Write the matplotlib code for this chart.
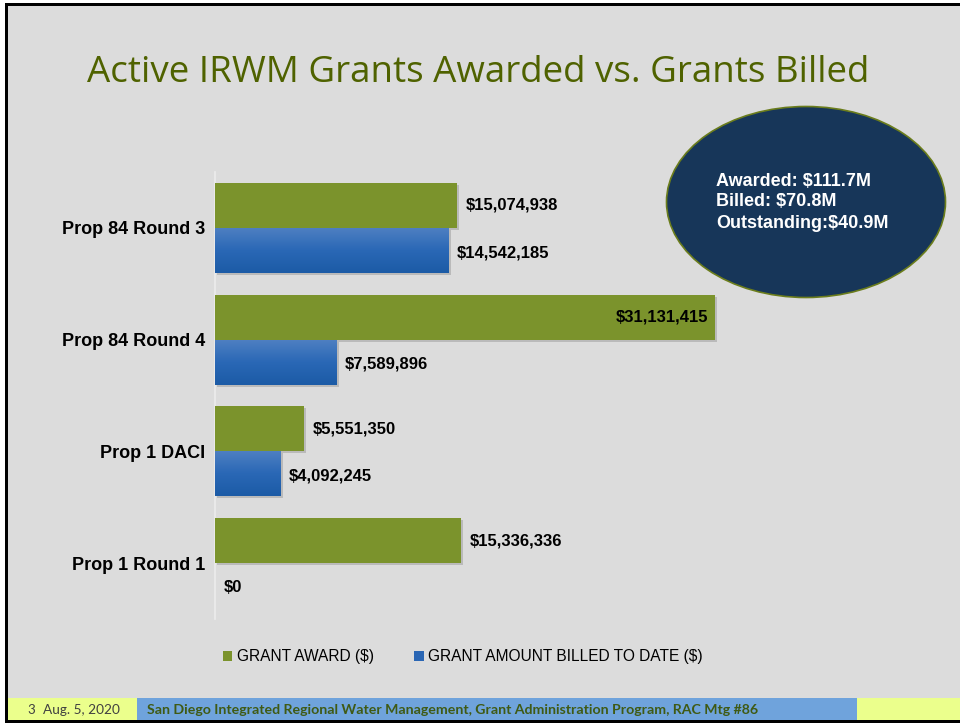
import numpy as np
import matplotlib
matplotlib.use("Agg")
import matplotlib.pyplot as plt
from matplotlib.patches import Rectangle, Ellipse, Patch
from matplotlib import patheffects as pe
from matplotlib.colors import LinearSegmentedColormap

# data
categories = ["Prop 84 Round 3", "Prop 84 Round 4", "Prop 1 DACI", "Prop 1 Round 1"]
grant_award = [15074938, 31131415, 5551350, 15336336]
grant_billed = [14542185, 7589896, 4092245, 0]
series_names = ["GRANT AWARD ($)", "GRANT AMOUNT BILLED TO DATE ($)"]
summary_lines = ["Awarded: $111.7M", "Billed: $70.8M", "Outstanding:$40.9M"]
title = "Active IRWM Grants Awarded vs. Grants Billed"
footer_page = "3"
footer_date = "Aug. 5, 2020"
footer_text = ("San Diego Integrated Regional Water Management, "
               "Grant Administration Program, RAC Mtg #86")

GREEN = "#7b932c"
BLUE = "#2a66b4"
BG = "#dcdcdc"
W, H = 960, 723

fig = plt.figure(figsize=(9.6, 7.23), dpi=100, facecolor="white")


def fx(px):
    return px / W


def fy(py):
    return 1 - py / H


# slide background + border
fig.patches.append(Rectangle((fx(5), 0), 1 - fx(5), fy(3), transform=fig.transFigure,
                             facecolor=BG, edgecolor="none", zorder=-10))
fig.patches.append(Rectangle((fx(5), fy(723)), fx(3), fy(3) - fy(723),
                             transform=fig.transFigure, facecolor="black", zorder=-9))
fig.patches.append(Rectangle((fx(5), fy(6)), 1, fy(3) - fy(6),
                             transform=fig.transFigure, facecolor="black", zorder=-9))
fig.patches.append(Rectangle((fx(5), 0), 1, fy(720),
                             transform=fig.transFigure, facecolor="black", zorder=-9))

# footer strips
fig.patches.append(Rectangle((fx(8), fy(720)), fx(137) - fx(8), fy(698) - fy(720),
                             transform=fig.transFigure, facecolor="#ebff8c", zorder=-8))
fig.patches.append(Rectangle((fx(137), fy(720)), fx(857) - fx(137), fy(698) - fy(720),
                             transform=fig.transFigure, facecolor="#6fa3dc", zorder=-8))
fig.patches.append(Rectangle((fx(857), fy(720)), 1 - fx(857), fy(698) - fy(720),
                             transform=fig.transFigure, facecolor="#ebff8c", zorder=-8))
fig.text(fx(27), fy(710), footer_page, fontsize=9.5, family="Lato", color="#404040",
         va="center", ha="left")
fig.text(fx(43), fy(710), footer_date, fontsize=9.8, family="Lato", color="#404040",
         va="center", ha="left")
fig.text(fx(147), fy(710), footer_text, fontsize=10.2, family="Lato", weight="bold",
         color="#3f5a14", va="center", ha="left")

# title
fig.text(fx(478), fy(73), title, fontsize=26.5, family="Open Sans", color="#4f6200",
         ha="center", va="center")

# chart
ax = fig.add_axes([fx(215), fy(619), fx(740) - fx(215), fy(172) - fy(619)])
ax.set_facecolor("none")
for s in ["top", "right", "bottom"]:
    ax.spines[s].set_visible(False)
ax.spines["left"].set_color("#ececec")
ax.spines["left"].set_linewidth(1.2)
ax.set_xticks([])

ypos = np.arange(len(categories))[::-1]
bh = 0.403
shadow = [pe.SimplePatchShadow(offset=(1.5, -1.5), alpha=0.22, shadow_rgbFace="#444444"),
          pe.Normal()]
bars_g = ax.barh(ypos + bh / 2, grant_award, height=bh, color=GREEN, zorder=3)
bars_b = ax.barh(ypos - bh / 2, grant_billed, height=bh, color=BLUE, zorder=3)
for b in list(bars_g) + list(bars_b):
    if b.get_width() > 0:
        b.set_path_effects(shadow)

# gradient on blue bars
cmap = LinearSegmentedColormap.from_list("bl", ["#1c5ba6", "#2a68b6", "#4f80c2"])
grad = np.linspace(0, 1, 64).reshape(-1, 1)
for b in bars_b:
    if b.get_width() <= 0:
        continue
    x0, y0 = b.get_x(), b.get_y()
    im = ax.imshow(grad, cmap=cmap, aspect="auto", origin="lower",
                   extent=[x0, x0 + b.get_width(), y0, y0 + b.get_height()], zorder=4)
    im.set_clip_path(b)
ax.set_xlim(0, 32.7e6)
ax.set_ylim(-0.5, 3.5)

ax.set_yticks(ypos)
ax.set_yticklabels(categories, fontsize=13, weight="bold", family="Liberation Sans")
ax.tick_params(axis="y", length=0, pad=7)

lab_kw = dict(fontsize=12, weight="bold", family="Liberation Sans", va="center", zorder=6)
for b, v in zip(bars_g, grant_award):
    y = b.get_y() + b.get_height() / 2
    if v > 25e6:
        ax.annotate(f"${v:,.0f}", (v, y), xytext=(-5, 0), textcoords="offset points",
                    ha="right", **lab_kw)
    else:
        ax.annotate(f"${v:,.0f}", (v, y), xytext=(6, 0), textcoords="offset points",
                    ha="left", **lab_kw)
for b, v in zip(bars_b, grant_billed):
    y = b.get_y() + b.get_height() / 2 - 0.02
    ax.annotate(f"${v:,.0f}", (v, y), xytext=(6, 0), textcoords="offset points",
                ha="left", **lab_kw)

handles = [Patch(facecolor=GREEN), Patch(facecolor=BLUE)]
fig.legend(handles, series_names, loc="center", bbox_to_anchor=(fx(463), fy(657)),
           ncol=2, frameon=False, handlelength=0.6, handleheight=0.6, handletextpad=0.3,
           columnspacing=2.6, prop=dict(family="Liberation Sans", size=11.2))

# summary ellipse
fig.patches.append(Ellipse((fx(806), fy(202)), fx(279), fy(0) - fy(191),
                           transform=fig.transFigure, facecolor="#173659",
                           edgecolor="#6b7d1c", linewidth=1.2, zorder=5))
for i, line in enumerate(summary_lines):
    fig.text(fx(716), fy(181 + 21 * i), line, fontsize=13, weight="bold",
             family="Liberation Sans", color="white", ha="left", va="center", zorder=6)

fig.savefig("out.png", dpi=100, facecolor=fig.get_facecolor())
